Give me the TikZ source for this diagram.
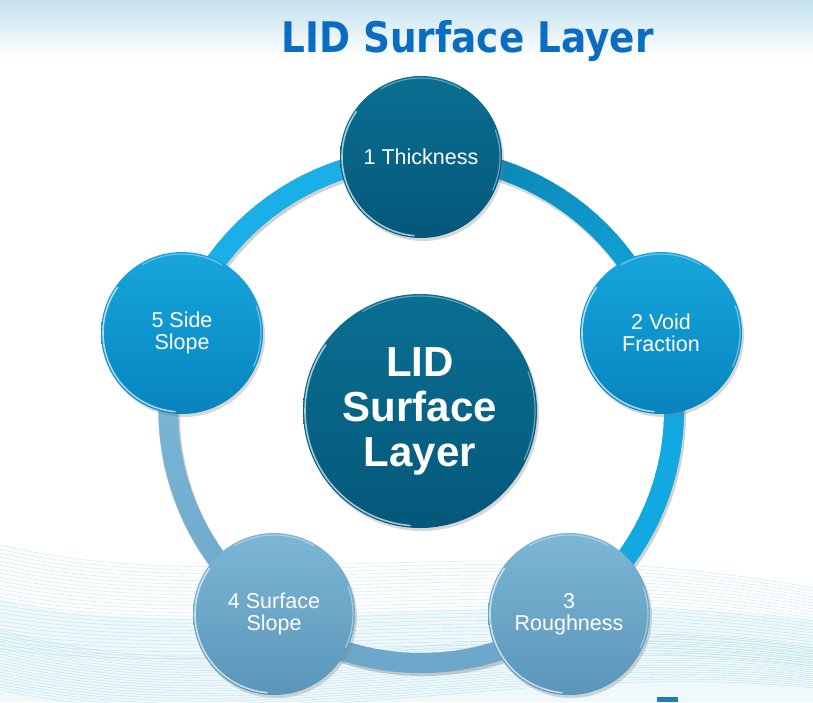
\documentclass[tikz,border=0pt]{standalone}
\usepackage{fontspec}
\setmainfont{Liberation Sans}
\newfontfamily\titlefont{DejaVu Sans}
\usetikzlibrary{shadows,calc}
\definecolor{topband}{HTML}{C4E2F0}
\definecolor{titleblue}{HTML}{0A6DC2}
\definecolor{dktop}{HTML}{0A6F92}
\definecolor{dkbot}{HTML}{04587A}
\definecolor{brtop}{HTML}{17A6DC}
\definecolor{brbot}{HTML}{0784BF}
\definecolor{grtop}{HTML}{7DB6D6}
\definecolor{grbot}{HTML}{5A96B9}
\definecolor{rdark}{HTML}{0A7FA8}
\definecolor{rbright}{HTML}{12A8E0}
\definecolor{rbright2}{HTML}{1AAFE6}
\definecolor{rgray}{HTML}{6DA8CA}
\definecolor{rgray2}{HTML}{7CB7D8}
\definecolor{wavec}{HTML}{7CC8E0}
\definecolor{markblue}{HTML}{1A80B4}
\newcommand\ringseg[4]{%
  \foreach \i in {0,...,23}{%
    \pgfmathsetmacro\sa{#1+(#2-#1)*\i/24}%
    \pgfmathsetmacro\ea{#1+(#2-#1)*(\i+1)/24+0.4}%
    \pgfmathtruncatemacro\q{100-100*\i/23}%
    \draw[line width=20pt, color={#3!\q!#4}] ($(rc)+(\sa:253)$) arc[start angle=\sa, end angle=\ea, radius=253];
  }%
}
\tikzset{
  bubble/.style={circle, minimum size=162pt, inner sep=0pt, align=center, text=white,
    font=\fontsize{21.5}{22}\selectfont,
    drop shadow={opacity=0.3, shadow xshift=2pt, shadow yshift=-3pt}},
  dkfill/.style={top color=dktop, bottom color=dkbot},
  brfill/.style={top color=brtop, bottom color=brbot},
  grfill/.style={top color=grtop, bottom color=grbot},
  wave/.style={draw=wavec, line width=.45pt, opacity=.4},
  rim/.style={white, opacity=.65, line width=1.6pt, line cap=round}
}
\begin{document}
\begin{tikzpicture}[x=1pt,y=-1pt]
\useasboundingbox (0,0) rectangle (813,702);
\fill[white] (0,0) rectangle (813,702);
\shade[top color=topband, bottom color=white] (0,0) rectangle (813,58);
% background waves
\fill[wavec, opacity=.12] (0,600) .. controls (220,650) and (480,580) .. (813,620) -- (813,702) -- (0,702) -- cycle;
\foreach \k in {0,...,26}
  \draw[wave] (0,{545+4*\k}) .. controls (230,{600+3*\k}) and (470,{525+4*\k}) .. (813,{588+3*\k});
\foreach \k in {0,...,20}
  \draw[wave] (0,{630+3*\k}) .. controls (260,{705+2*\k}) and (530,{598+3*\k}) .. (813,{648+2*\k});
% title
\node[anchor=base west, text=titleblue] (title) at (278,52) {\resizebox{372pt}{32pt}{\titlefont\bfseries LID Surface Layer}};
% ring
\coordinate (rc) at (421,410);
\begin{scope}[opacity=.18]
  \draw[line width=20pt, black] ($(rc)+(2,3)$) circle[radius=253];
\end{scope}
\ringseg{-90}{-18}{rdark}{rbright}
\ringseg{-18}{54}{rbright}{rbright}
\ringseg{54}{126}{rgray}{rgray}
\ringseg{126}{198}{rgray}{rgray2}
\ringseg{198}{270}{rbright2}{rbright2}
\draw[white, opacity=.55, line width=1pt] ($(rc)+(-80:243)$) arc[start angle=-80, end angle=-30, radius=243];
\draw[white, opacity=.55, line width=1pt] ($(rc)+(140:263)$) arc[start angle=140, end angle=190, radius=263];
% circles
\node[bubble, dkfill] (n1) at (421,157) {1 Thickness};
\node[bubble, brfill] (n2) at (661,333) {2 Void\\Fraction};
\node[bubble, grfill] (n3) at (569,614) {3\\Roughness};
\node[bubble, grfill] (n4) at (274,614) {4 Surface\\Slope};
\node[bubble, brfill] (n5) at (182,333) {5 Side\\Slope};
\node[bubble, dkfill, minimum size=234pt, font=\fontsize{42}{45}\selectfont\bfseries] (c) at (420,411) {LID\\Surface\\Layer};
% rim highlights
\foreach \n/\r in {n1/79,n2/79,n3/79,n4/79,n5/79,c/115}{
  \draw[rim] ($(\n.center)+(-145:\r)$) arc[start angle=-145, end angle=-265, radius=\r];
  \draw[rim, opacity=.35, line width=1.2pt] ($(\n.center)+(-60:\r)$) arc[start angle=-60, end angle=-120, radius=\r];
  \draw[rim, opacity=.4, line width=1.2pt] ($(\n.center)+(-20:\r)$) arc[start angle=-20, end angle=25, radius=\r];
}
% small mark
\fill[markblue] (657,697) rectangle (678,702);
\end{tikzpicture}
\end{document}
